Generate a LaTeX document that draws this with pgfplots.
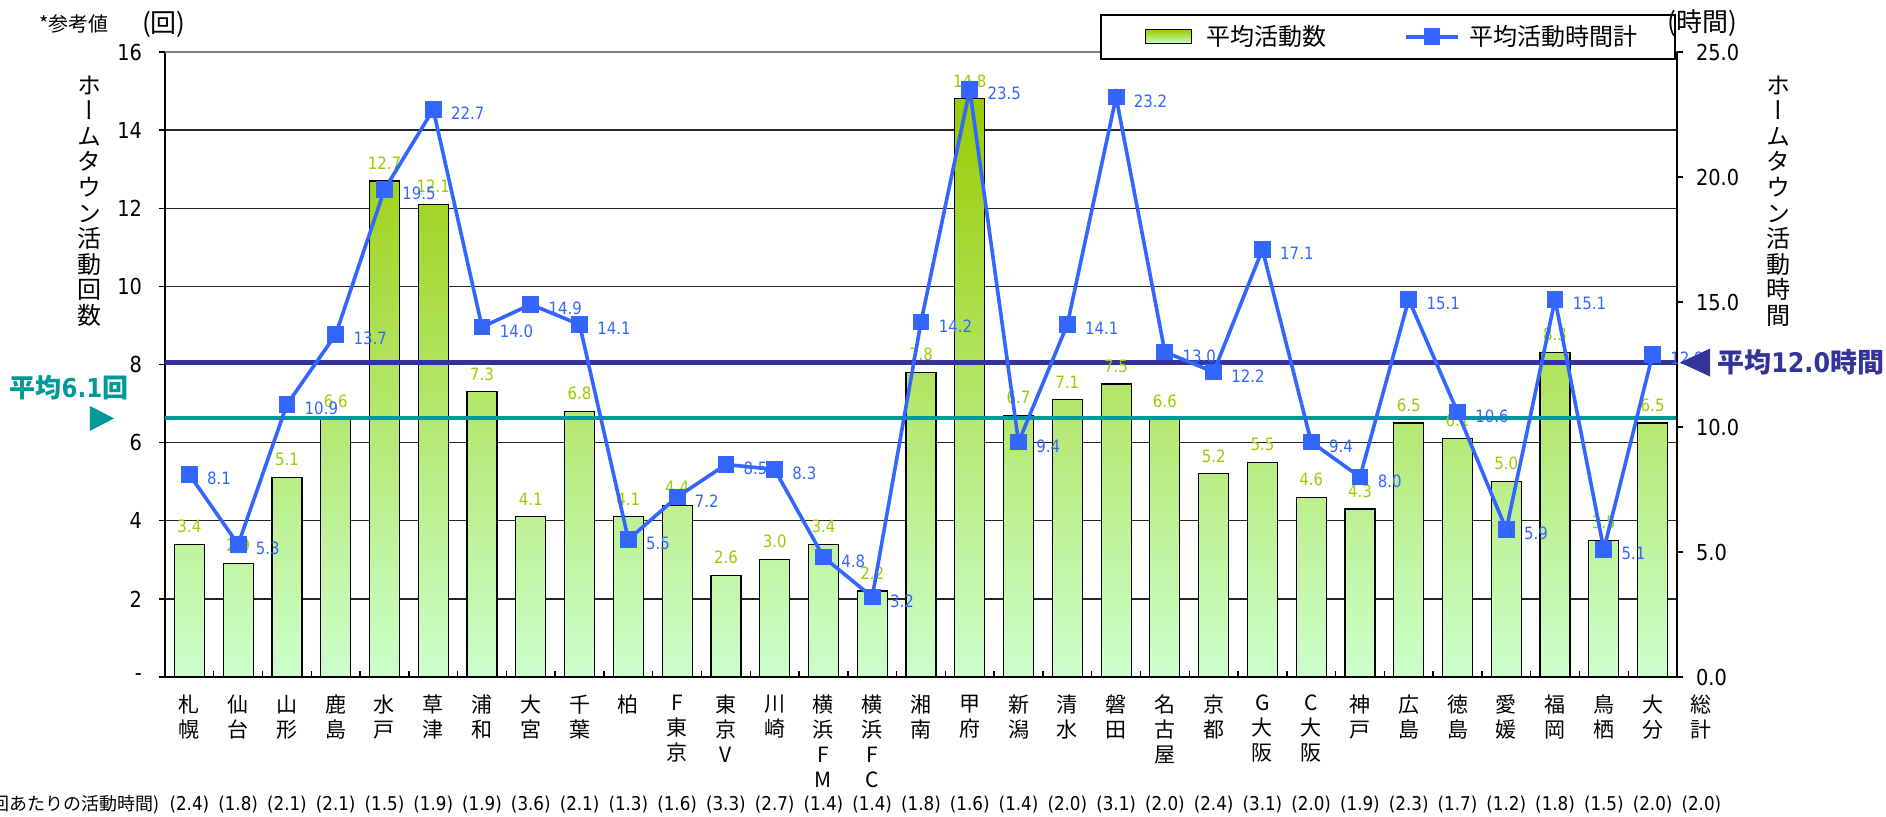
\documentclass[border=0pt]{standalone}
\usepackage{fontspec}
\setmainfont{Noto Sans CJK JP}
\newfontfamily\numfont{DejaVu Sans}[FakeStretch=0.88]
\newfontfamily\vfont{Noto Sans CJK JP}[RawFeature=+vert]
\usepackage{pgfplots}
\pgfplotsset{compat=1.18}
\usepackage{pgfplotstable}
\usetikzlibrary{calc}

\definecolor{barTop}{HTML}{99CC00}
\definecolor{barBot}{HTML}{CCFFCC}
\definecolor{lblGreen}{HTML}{99CC00}
\definecolor{lineBlue}{HTML}{3366FF}
\definecolor{avgTeal}{HTML}{009999}
\definecolor{avgNavy}{HTML}{333399}

% x: team slot, cnt: average activities, hrs: average hours
\pgfplotstableread{
x cnt hrs
1 3.4 8.1
2 2.9 5.3
3 5.1 10.9
4 6.6 13.7
5 12.7 19.5
6 12.1 22.7
7 7.3 14.0
8 4.1 14.9
9 6.8 14.1
10 4.1 5.5
11 4.4 7.2
12 2.6 8.5
13 3.0 8.3
14 3.4 4.8
15 2.2 3.2
16 7.8 14.2
17 14.8 23.5
18 6.7 9.4
19 7.1 14.1
20 7.5 23.2
21 6.6 13.0
22 5.2 12.2
23 5.5 17.1
24 4.6 9.4
25 4.3 8.0
26 6.5 15.1
27 6.1 10.6
28 5.0 5.9
29 8.3 15.1
30 3.5 5.1
31 6.5 12.9
}\data

\pgfplotsset{
  /pgf/number format/assume math mode=true,
  barlegend/.style={legend image code/.code={\path (-10pt,0pt) (28pt,0pt);
    \draw[##1, line width=0.6pt] (0pt,-3.5pt) rectangle (23pt,3.5pt);}},
  linelegend/.style={legend image code/.code={\path (0pt,0pt) (29pt,0pt);
    \draw[##1, mark repeat=2, mark phase=2] plot coordinates {(0pt,0pt) (13pt,0pt) (26pt,0pt)};}},
}

\begin{document}
\begin{tikzpicture}
\begin{axis}[
  name=ax, scale only axis, width=756pt, height=312.5pt,
  xmin=0.5, xmax=31.5, ymin=0, ymax=16,
  axis x line*=bottom, axis y line*=left,
  axis line style={black, line width=0.8pt},
  xtick={0.5,1.5,...,31.5}, xticklabels={}, xtick align=inside,
  ytick={0,2,...,16}, yticklabels={-,2,4,6,8,10,12,14,16}, ytick align=outside,
  major tick length=3pt,
  tick style={black, line width=0.7pt},
  yticklabel style={font=\numfont\fontsize{11}{13}\selectfont, xshift=-5pt},
  ymajorgrids, grid style={black!85, line width=0.7pt},
  clip=false,
  legend columns=2,
  legend style={at={(0.6184,1.0608)}, anchor=north west, draw=black, line width=0.9pt,
    fill=white, font=\fontsize{12}{14}\selectfont, inner xsep=12pt, inner ysep=3.2pt,
    /tikz/every even column/.append style={column sep=37pt}},
]
\addplot[ybar, bar width=15pt, draw=black, line width=0.6pt,
  top color=barTop, bottom color=barBot, point meta=y,
  nodes near coords={\pgfmathprintnumber[fixed,fixed zerofill,precision=1]{\pgfplotspointmeta}},
  every node near coord/.append style={text=lblGreen, font=\numfont\fontsize{8.5}{10}\selectfont, inner sep=1pt, yshift=4.5pt},
  barlegend]
  table[x=x, y=cnt]{\data};
\addlegendentry{平均活動数}
\addlegendimage{lineBlue, line width=1.8pt, mark=square*, mark size=3.3pt, linelegend}
\addlegendentry{平均活動時間計\hspace*{4.5pt}}

\addplot[avgTeal, line width=2pt, forget plot] coordinates {(0.5,6.62) (31.5,6.62)};
\addplot[avgNavy, line width=2.6pt, forget plot] coordinates {(0.5,8.05) (31.5,8.05)};
\draw[black!50, line width=1.2pt] (rel axis cs:0,1) -- (rel axis cs:1,1);
\coordinate (tealL) at (axis cs:0.5,6.62);
\coordinate (navyR) at (axis cs:31.5,8.05);
\end{axis}

\begin{axis}[
  scale only axis, width=756pt, height=312.5pt,
  xmin=0.5, xmax=31.5, ymin=0, ymax=25,
  axis x line=none, axis y line*=right,
  axis line style={black, line width=0.8pt},
  ytick={0,5,...,25}, ytick align=outside, major tick length=3pt,
  tick style={black, line width=0.7pt},
  yticklabel style={font=\numfont\fontsize{11}{13}\selectfont, xshift=3pt,
    /pgf/number format/fixed, /pgf/number format/fixed zerofill, /pgf/number format/precision=1},
  clip=false,
]
\addplot[lineBlue, line width=1.8pt, mark=square*, mark size=3.3pt, point meta=y,
  nodes near coords={\pgfmathprintnumber[fixed,fixed zerofill,precision=1]{\pgfplotspointmeta}},
  every node near coord/.append style={anchor=west, xshift=7pt, yshift=-2pt, text=lineBlue, font=\numfont\fontsize{8.5}{10}\selectfont, inner sep=1pt}]
  table[x=x, y=hrs]{\data};
\end{axis}

% average markers
\fill[avgTeal] (tealL) ++(-25.5pt,0pt) -- ++(-12pt,6.2pt) -- ++(0pt,-12.4pt) -- cycle;
\node[text=avgTeal, font=\bfseries\fontsize{13}{15}\selectfont, xshift=-48pt, yshift=15.5pt]
  at (tealL) {平均{\numfont 6.1}回};
\fill[avgNavy] (navyR) ++(1.5pt,0pt) -- ++(15pt,7pt) -- ++(0pt,-14pt) -- cycle;
\node[anchor=west, inner sep=0pt, text=avgNavy, font=\bfseries\fontsize{13.5}{15}\selectfont, xshift=20pt]
  at (navyR) {平均{\numfont 12.0}時間};

% axis titles and unit notes
\node[font=\vfont\fontsize{12}{12.8}\selectfont, align=center, inner sep=0pt]
  at ($(ax.north west)+(-37.5pt,-74.5pt)$) {ホ\\ー\\ム\\タ\\ウ\\ン\\活\\動\\回\\数};
\node[font=\vfont\fontsize{12}{12.8}\selectfont, align=center, inner sep=0pt]
  at ($(ax.north east)+(50.5pt,-74.5pt)$) {ホ\\ー\\ム\\タ\\ウ\\ン\\活\\動\\時\\間};
\node[font=\fontsize{10}{12}\selectfont, inner sep=0pt] at ($(ax.north west)+(-45.5pt,14pt)$) {*参考値};
\node[font=\fontsize{13}{15}\selectfont, inner sep=0pt] at ($(ax.north west)+(-0.5pt,14pt)$) {(回)};
\node[font=\fontsize{13}{15}\selectfont, inner sep=0pt] at ($(ax.north east)+(12.5pt,14.5pt)$) {(時間)};

% category labels (総計 sits one slot beyond the plot)
\foreach \lab [count=\i] in {{札\\幌},{仙\\台},{山\\形},{鹿\\島},{水\\戸},{草\\津},{浦\\和},{大\\宮},{千\\葉},{柏},
  {F\\東\\京},{東\\京\\V},{川\\崎},{横\\浜\\F\\M},{横\\浜\\F\\C},{湘\\南},{甲\\府},{新\\潟},{清\\水},{磐\\田},
  {名\\古\\屋},{京\\都},{G\\大\\阪},{C\\大\\阪},{神\\戸},{広\\島},{徳\\島},{愛\\媛},{福\\岡},{鳥\\栖},{大\\分},{総\\計}} {
  \node[anchor=north, align=center, inner sep=0pt, yshift=-8.7pt, font=\fontsize{10.5}{12.5}\selectfont]
    at ($(ax.south west)!{(\i-0.5)/31}!(ax.south east)$) {\lab};
}
% hours per activity row
\node[anchor=east, inner sep=0pt, yshift=-64pt, xshift=-2.5pt, font=\fontsize{9}{11}\selectfont]
  at (ax.south west) {(1回あたりの活動時間)};
\foreach \v [count=\i] in {2.4,1.8,2.1,2.1,1.5,1.9,1.9,3.6,2.1,1.3,1.6,3.3,2.7,1.4,1.4,1.8,
  1.6,1.4,2.0,3.1,2.0,2.4,3.1,2.0,1.9,2.3,1.7,1.2,1.8,1.5,2.0,2.0} {
  \node[inner sep=0pt, yshift=-64pt, font=\numfont\fontsize{9.5}{11}\selectfont]
    at ($(ax.south west)!{(\i-0.5)/31}!(ax.south east)$) {(\v)};
}

\pgfresetboundingbox
\path[use as bounding box] ($(ax.south west)+(-82.5pt,-69.5pt)$) rectangle ($(ax.north east)+(104.5pt,26pt)$);
\end{tikzpicture}
\end{document}
